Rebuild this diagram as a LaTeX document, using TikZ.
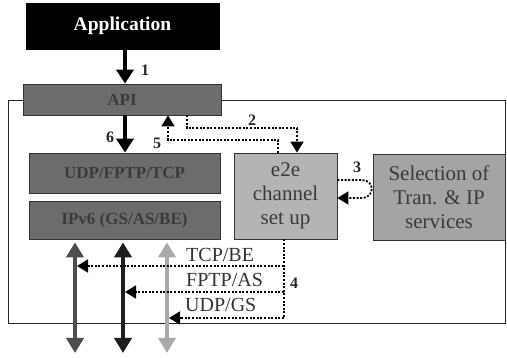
\documentclass[tikz,border=0pt]{standalone}
\usepackage{fontspec}
\setmainfont{Liberation Serif}
\usetikzlibrary{arrows.meta}

\definecolor{layergray}{HTML}{6C6C6C}
\definecolor{e2egray}{HTML}{B4B4B4}
\definecolor{selgray}{HTML}{A4A4A4}
\definecolor{inkgray}{HTML}{3A3A3A}
\definecolor{busA}{HTML}{4D4D4D}
\definecolor{busB}{HTML}{1E1E1E}
\definecolor{busC}{HTML}{A9A9A9}

\begin{document}
\begin{tikzpicture}[x=1pt,y=-1pt]
\tikzstyle{layer}=[draw=black!80,line width=0.8pt,fill=layergray,text=inkgray,font=\fontsize{17}{20}\selectfont\bfseries,inner sep=0pt]
\tikzstyle{lightbox}=[draw=black!80,line width=0.8pt,text=inkgray,align=center,font=\fontsize{21}{24}\selectfont,inner sep=0pt]
\tikzstyle{num}=[font=\fontsize{16}{18}\selectfont\bfseries,text=black!85]
\tikzstyle{tag}=[font=\fontsize{20}{22}\selectfont,text=black!80,anchor=west,inner sep=0pt]
\tikzstyle{call}=[line width=4pt,-{Triangle[width=17pt,length=14pt]}]
\tikzstyle{bus}=[line width=4pt,{Triangle[width=17pt,length=15pt]}-{Triangle[width=17pt,length=15pt]}]
\tikzstyle{flow}=[line width=1.8pt,dash pattern=on 2pt off 1.6pt,-{Triangle[width=13pt,length=11pt]}]
\useasboundingbox (0,0) rectangle (507,358);
% outer frame
\draw [black!85,line width=0.8pt] (8,100) rectangle (505,323);
% boxes
\node [draw=black,fill=black,text=white,font=\fontsize{19.5}{22}\selectfont\bfseries,minimum width=193pt,minimum height=46pt] (app) at (122.5,26) {Application};
\node [layer,minimum width=198pt,minimum height=31pt] (api) at (122,99.5) {API};
\node [layer,minimum width=191pt,minimum height=40pt] (udp) at (124.5,173) {UDP/FPTP/TCP};
\node [layer,minimum width=191pt,minimum height=38pt] (ipv) at (124.5,220) {IPv6 (GS/AS/BE)};
\node [lightbox,fill=e2egray,minimum width=103pt,minimum height=86pt] (e2e) at (285.5,196) {e2e\\channel\\set up};
\node [lightbox,fill=selgray,minimum width=132pt,minimum height=86pt] (sel) at (439,197) {Selection of\\Tran. \& IP\\services};
% calls through the API
\draw [call] (app.south -| 125,0) -- (api.north -| 125,0);
\draw [call] (api.south -| 125,0) -- (udp.north -| 125,0);
\draw (145,70) node [num] {1};
\draw (110,137) node [num] {6};
% signalling between API and e2e set up
\draw [flow] (api.south -| 187,0) -- (187,128) -| ([xshift=11.5pt]e2e.north);
\draw [flow] ([xshift=-7.5pt]e2e.north) |- (168,140) -- (api.south -| 168,0);
\draw (252,120) node [num] {2};
\draw (157,143) node [num] {5};
\draw [flow] ([yshift=16pt]e2e.east) -- (362,180) .. controls (375,180) and (375,198) .. (362,198) -- ([yshift=-2pt]e2e.east);
\draw (357,167) node [num] {3};
% service classes down to IPv6
\coordinate (be) at (75,0);
\coordinate (as) at (123,0);
\coordinate (gs) at (167,0);
\draw [bus,busA] ([yshift=-3pt]ipv.south -| be) -- (75,353);
\draw [bus,busB] ([yshift=-3pt]ipv.south -| as) -- (123,353);
\draw [bus,busC] ([yshift=-3pt]ipv.south -| gs) -- (167,353);
\draw [flow,-] ([xshift=-1.5pt]e2e.south) -- (284,318);
\draw [flow,shorten >=2pt] (284,266) -- (be |- 0,266);
\draw [flow,shorten >=2pt] (284,292) -- (as |- 0,292);
\draw [flow,shorten >=2pt] (284,318) -- (gs |- 0,318);
\draw (186,255) node [tag] {TCP/BE};
\draw (186,280) node [tag] {FPTP/AS};
\draw (185,305) node [tag] {UDP/GS};
\draw (294,283) node [num] {4};
\end{tikzpicture}
\end{document}
